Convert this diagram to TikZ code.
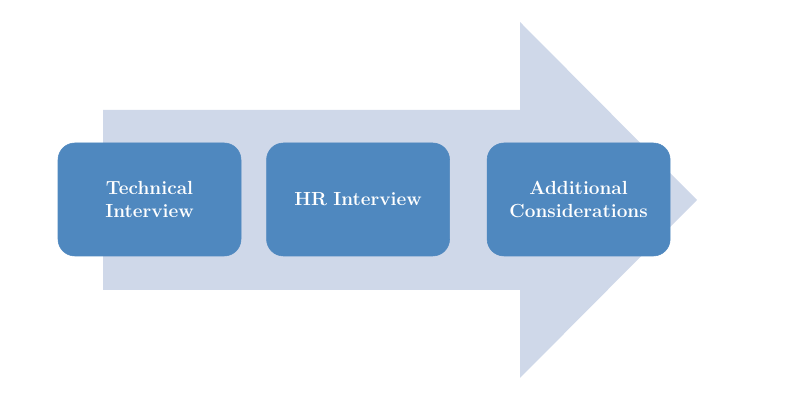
\documentclass[tikz,border=0pt]{standalone}
\usepackage{tikz}
\usetikzlibrary{positioning}
\definecolor{arrowfill}{HTML}{CFD8E9}
\definecolor{boxfill}{HTML}{4F88BF}
\tikzset{
  stagebox/.style={fill=boxfill, draw=boxfill, rounded corners=12pt,
    minimum width=4.575cm, minimum height=2.825cm, text width=4.2cm,
    align=center, text=white, font=\bfseries\fontsize{13.5}{16}\selectfont}
}
\begin{document}
\begin{tikzpicture}
    \useasboundingbox (0,0) rectangle (20,10);

    % Big background arrow
    \fill[arrowfill] (2.575,2.75) -- (13.0,2.75) -- (13.0,0.55) -- (17.425,5)
        -- (13.0,9.45) -- (13.0,7.25) -- (2.575,7.25) -- cycle;

    % Stages
    \node[stagebox] (tech) at (3.7375,5.0125) {Technical\\Interview};
    \node[stagebox, right=0.625cm of tech] (hr) {HR Interview};
    \node[stagebox, right=0.925cm of hr] (extra) {Additional\\Considerations};
\end{tikzpicture}
\end{document}
